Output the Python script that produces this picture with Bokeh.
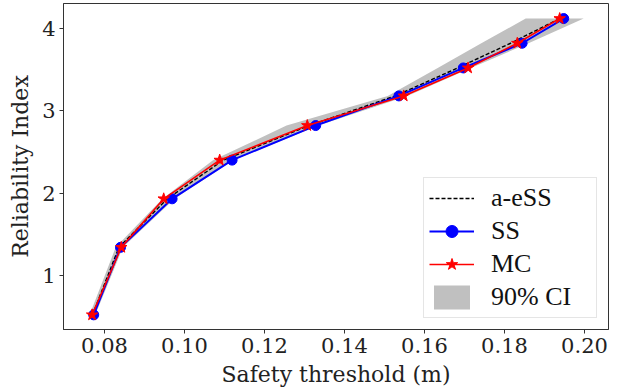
from bokeh.plotting import figure
from bokeh.models import ColumnDataSource, Legend, LegendItem, FixedTicker, Range1d, PrintfTickFormatter
from bokeh.embed import file_html
from bokeh.resources import INLINE

# Reliability index levels (y) and thresholds (x)
beta = [0.52, 1.34, 1.93, 2.40, 2.82, 3.18, 3.52, 3.82, 4.12]
ss_x = [0.0773, 0.0840, 0.0969, 0.1119, 0.1328, 0.1536, 0.1697, 0.1844, 0.1948]
mc_x = [0.0769, 0.0842, 0.0948, 0.1088, 0.1307, 0.1548, 0.1709, 0.1832, 0.1938]
aess_x = [0.0770, 0.0836, 0.0957, 0.1097, 0.1312, 0.1527, 0.1683, 0.1815, 0.1938]
ci_low = [0.0763, 0.0828, 0.0945, 0.1072, 0.1255, 0.1508, 0.1633, 0.1742, 0.1853]
ci_high = [0.0777, 0.0846, 0.0975, 0.1123, 0.1335, 0.1557, 0.1716, 0.1860, 0.1998]
x_ticks = [0.08, 0.10, 0.12, 0.14, 0.16, 0.18, 0.20]
y_ticks = [1, 2, 3, 4]

src = ColumnDataSource(dict(beta=beta, ss=ss_x, mc=mc_x, aess=aess_x, lo=ci_low, hi=ci_high))

p = figure(width=625, height=389, output_backend="svg", toolbar_location=None,
           x_range=Range1d(0.06975, 0.206), y_range=Range1d(0.342, 4.303),
           min_border_left=63, min_border_right=17, min_border_top=3, min_border_bottom=59)

p.xgrid.visible = False
p.ygrid.visible = False
p.background_fill_color = "white"
p.border_fill_color = "white"
p.outline_line_color = "#333333"
p.outline_line_width = 1

band = p.harea(x1="lo", x2="hi", y="beta", source=src, fill_color="#c0c0c0", fill_alpha=1.0)
dash = p.line(x="aess", y="beta", source=src, line_color="black", line_width=1.4, line_dash="4 2")
ss_l = p.line(x="ss", y="beta", source=src, line_color="blue", line_width=2)
ss_m = p.scatter(x="ss", y="beta", source=src, marker="circle", size=10, fill_color="blue", line_color="blue")
mc_l = p.line(x="mc", y="beta", source=src, line_color="red", line_width=1.6)
mc_m = p.scatter(x="mc", y="beta", source=src, marker="star", size=12, fill_color="red", line_color="red")

for ax in (p.xaxis[0], p.yaxis[0]):
    ax.major_label_text_font = "DejaVu Serif"
    ax.major_label_text_font_size = "21px"
    ax.major_label_text_color = "#222222"
    ax.axis_label_text_font = "DejaVu Serif"
    ax.axis_label_text_font_size = "22px"
    ax.axis_label_text_font_style = "normal"
    ax.axis_label_text_color = "#222222"
    ax.axis_line_color = "#333333"
    ax.major_tick_line_color = "#333333"
    ax.major_tick_out = 4
    ax.major_tick_in = 0
    ax.minor_tick_out = 0
    ax.minor_tick_in = 0
    ax.major_label_standoff = 4
    ax.axis_label_standoff = 6

p.xaxis[0].axis_label = "Safety threshold (m)"
p.yaxis[0].axis_label = "Reliability Index"
p.xaxis[0].ticker = FixedTicker(ticks=x_ticks)
p.yaxis[0].ticker = FixedTicker(ticks=y_ticks)
p.xaxis[0].formatter = PrintfTickFormatter(format="%.2f")

legend = Legend(items=[
    LegendItem(label="a-eSS", renderers=[dash]),
    LegendItem(label="SS", renderers=[ss_l, ss_m]),
    LegendItem(label="MC", renderers=[mc_l, mc_m]),
    LegendItem(label="90% CI", renderers=[band]),
], location="bottom_right")
legend.label_text_font = "Liberation Serif"
legend.label_text_font_size = "26px"
legend.label_text_color = "#111111"
legend.glyph_width = 45
legend.glyph_height = 30
legend.label_height = 30
legend.label_width = 100
legend.label_standoff = 17
legend.spacing = 3
legend.padding = 5
legend.margin = 11
legend.border_line_color = "#cccccc"
legend.border_line_width = 1
legend.background_fill_alpha = 0.8
p.add_layout(legend)

open("out.html", "w").write(file_html(p, INLINE))
